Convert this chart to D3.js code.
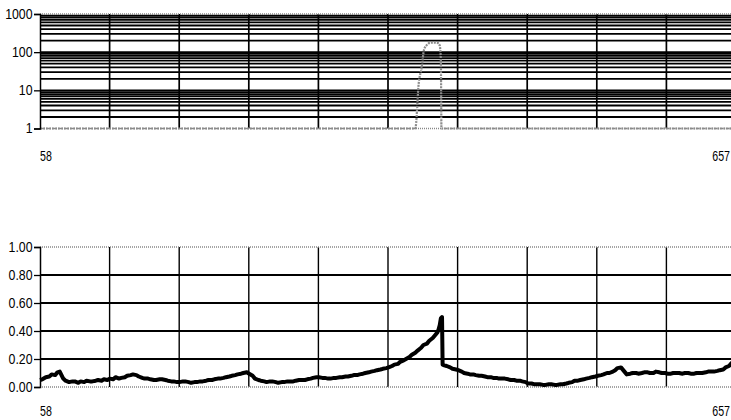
<!DOCTYPE html>
<html><head><meta charset="utf-8">
<script src="https://cdn.jsdelivr.net/npm/d3@7"></script>
<style>
html,body{margin:0;padding:0;background:#fff;}
svg{display:block;}
text{font-family:"Liberation Sans",Arial,sans-serif;font-size:13px;fill:#000;}
</style></head><body>
<svg id="c" width="731" height="420"></svg>
<script>
// ---- data ----
const xLabels = [58, 657];
const logTicks = [1, 10, 100, 1000];
const linTicks = [0, 0.2, 0.4, 0.6, 0.8, 1.0];

const topX = [58, 381, 384, 386.5, 388.5, 391, 393.5, 397, 400, 402, 403, 403.5, 657];
const topY = [1, 1, 16, 40, 115, 155, 175, 178, 175, 150, 60, 1, 1];

const botX = [58,60,63,66,68,71,73,75,78,80,83,86,88,91,93,96,98,101,103,106,108,111,113,116,118,121,123,126,128,131,133,136,138,141,143,146,148,151,153,156,158,161,163,166,168,171,173,176,178,181,183,186,188,191,193,196,198,201,203,206,208,211,213,216,218,221,223,226,228,231,233,236,238,241,243,246,248,251,253,256,258,261,263,266,268,271,273,276,278,281,283,286,288,291,293,296,298,301,303,306,308,311,313,316,318,321,323,326,328,331,333,336,338,341,343,346,348,351,353,356,358,361,363,366,368,371,373,376,378,381,383,386,388,391,393,396,398,400,401,402,403,404,404.5,406,408,411,413,416,418,421,423,426,428,431,433,436,438,441,443,446,448,451,453,456,458,461,463,466,468,471,473,476,478,481,483,486,488,491,493,496,498,501,503,506,508,511,513,516,518,521,523,526,528,531,533,536,538,541,543,546,548,551,553,555,558,561,563,566,568,571,573,576,578,581,583,586,588,591,593,596,598,601,603,606,608,611,613,616,618,621,623,626,628,631,633,636,638,641,643,646,648,651,653,655,657];
const botY = [0.05,0.055,0.07,0.075,0.09,0.085,0.105,0.11,0.06,0.045,0.035,0.04,0.04,0.03,0.04,0.035,0.045,0.04,0.04,0.045,0.05,0.045,0.055,0.05,0.06,0.055,0.07,0.06,0.065,0.07,0.08,0.085,0.09,0.085,0.075,0.065,0.06,0.06,0.055,0.05,0.05,0.055,0.055,0.05,0.045,0.04,0.04,0.035,0.035,0.04,0.04,0.035,0.03,0.035,0.035,0.04,0.04,0.045,0.05,0.05,0.055,0.06,0.06,0.065,0.07,0.075,0.08,0.085,0.09,0.095,0.10,0.105,0.095,0.08,0.06,0.05,0.045,0.04,0.035,0.04,0.04,0.035,0.03,0.035,0.035,0.04,0.04,0.04,0.045,0.05,0.05,0.05,0.055,0.06,0.065,0.07,0.07,0.065,0.065,0.06,0.06,0.065,0.065,0.07,0.07,0.075,0.075,0.08,0.085,0.085,0.09,0.095,0.10,0.105,0.11,0.115,0.12,0.125,0.13,0.135,0.14,0.15,0.16,0.165,0.18,0.19,0.20,0.215,0.23,0.245,0.26,0.28,0.30,0.31,0.33,0.35,0.37,0.39,0.41,0.44,0.49,0.50,0.16,0.155,0.15,0.14,0.13,0.125,0.12,0.11,0.10,0.095,0.09,0.09,0.085,0.08,0.08,0.075,0.07,0.07,0.065,0.065,0.06,0.06,0.06,0.055,0.05,0.05,0.045,0.045,0.04,0.035,0.025,0.025,0.02,0.02,0.02,0.015,0.015,0.02,0.02,0.015,0.015,0.02,0.02,0.025,0.03,0.035,0.045,0.045,0.05,0.055,0.06,0.065,0.07,0.075,0.08,0.085,0.09,0.10,0.10,0.11,0.12,0.135,0.14,0.11,0.09,0.095,0.10,0.10,0.095,0.10,0.105,0.105,0.10,0.10,0.11,0.105,0.10,0.10,0.095,0.095,0.10,0.10,0.10,0.095,0.10,0.10,0.095,0.095,0.10,0.10,0.10,0.105,0.11,0.11,0.11,0.115,0.12,0.125,0.14,0.15,0.17,0.18];

// ---- layout ----
const svg = d3.select("#c");
const L = 40, R = 736, SX = 0.88, SXL = 0.76;
const x = d3.scaleLinear().domain([58, 657]).range([L, R]);
const yTop = d3.scaleLog().domain([1, 1000]).range([128.5, 14]);
const yBot = d3.scaleLinear().domain([0, 1]).range([387, 247]);
const xGrid = d3.range(1, 10).map(k => 58 + k * (657 - 58) / 10);

function narrowTicks(g) {
  g.selectAll(".tick text")
    .attr("fill", "#000")
    .style("font-family", '"Liberation Sans",Arial,sans-serif')
    .style("font-size", "14px")
    .attr("x", -7.5 / SX)
    .attr("transform", `scale(${SX},1)`);
}
function xLabelText(g, yPos) {
  g.selectAll("text.xl").data(xLabels).join("text")
    .attr("class", "xl")
    .attr("transform", d => `translate(${d === 58 ? x(d) : x(d) - 6},${yPos}) scale(${SXL},1)`)
    .attr("text-anchor", d => d === 58 ? "start" : "end")
    .style("font-size", "14px")
    .text(d => d);
}

// ===== top chart =====
const gT = svg.append("g");
const logGrid = [];
[1, 10, 100].forEach(d => { for (let m = 2; m <= 10; m++) logGrid.push(d * m); });
gT.selectAll("line.hg").data(logGrid.filter(v => v < 1000)).join("line")
  .attr("x1", L).attr("x2", R)
  .attr("y1", d => yTop(d)).attr("y2", d => yTop(d))
  .attr("stroke", "#000").attr("stroke-width", 1.8);
gT.selectAll("line.vg").data(xGrid).join("line")
  .attr("x1", d => x(d)).attr("x2", d => x(d))
  .attr("y1", yTop(1000)).attr("y2", yTop(1))
  .attr("stroke", "#000").attr("stroke-width", 1.7);
[1000, 1].forEach(v => gT.append("line").attr("x1", L).attr("x2", R)
  .attr("y1", yTop(v)).attr("y2", yTop(v))
  .attr("stroke", "#888").attr("stroke-width", 1.5).attr("stroke-dasharray", "1,1"));
gT.append("path").datum(topX.map((d, i) => [d, topY[i]]))
  .attr("d", d3.line().x(d => x(d[0])).y(d => yTop(d[1])).curve(d3.curveMonotoneX))
  .attr("fill", "none").attr("stroke", "#8c8c8c").attr("stroke-width", 2.2)
  .attr("stroke-dasharray", "2,1");
const axT = d3.axisLeft(yTop).tickValues(logTicks).tickFormat(d3.format("d")).tickSize(6).tickPadding(1);
const gax = gT.append("g").attr("transform", `translate(${L},0)`).call(axT);
gax.select(".domain").attr("stroke", "#000").attr("stroke-width", 1.5);
gax.selectAll(".tick line").attr("stroke-width", 1.3);
narrowTicks(gax);
xLabelText(gT, 161);

// ===== bottom chart =====
const gB = svg.append("g");
gB.selectAll("line.hg").data([0.2, 0.4, 0.6, 0.8]).join("line")
  .attr("x1", L).attr("x2", R)
  .attr("y1", d => yBot(d)).attr("y2", d => yBot(d))
  .attr("stroke", "#000").attr("stroke-width", 2);
gB.selectAll("line.vg").data(xGrid).join("line")
  .attr("x1", d => x(d)).attr("x2", d => x(d))
  .attr("y1", yBot(1)).attr("y2", yBot(0))
  .attr("stroke", "#000").attr("stroke-width", 1.4);
[1, 0].forEach(v => gB.append("line").attr("x1", L).attr("x2", R)
  .attr("y1", yBot(v)).attr("y2", yBot(v))
  .attr("stroke", "#888").attr("stroke-width", 1.5).attr("stroke-dasharray", "1,1"));
gB.append("path").datum(botX.map((d, i) => [d, botY[i]]))
  .attr("d", d3.line().x(d => x(d[0])).y(d => yBot(d[1])))
  .attr("fill", "none").attr("stroke", "#000").attr("stroke-width", 4)
  .attr("stroke-linejoin", "round");
const axB = d3.axisLeft(yBot).tickValues(linTicks).tickFormat(d3.format(".2f")).tickSize(6).tickPadding(1);
const gbx = gB.append("g").attr("transform", `translate(${L},0)`).call(axB);
gbx.select(".domain").attr("stroke", "#000").attr("stroke-width", 1.5);
gbx.selectAll(".tick line").attr("stroke-width", 1.3);
narrowTicks(gbx);
xLabelText(gB, 416);
</script>
</body></html>
